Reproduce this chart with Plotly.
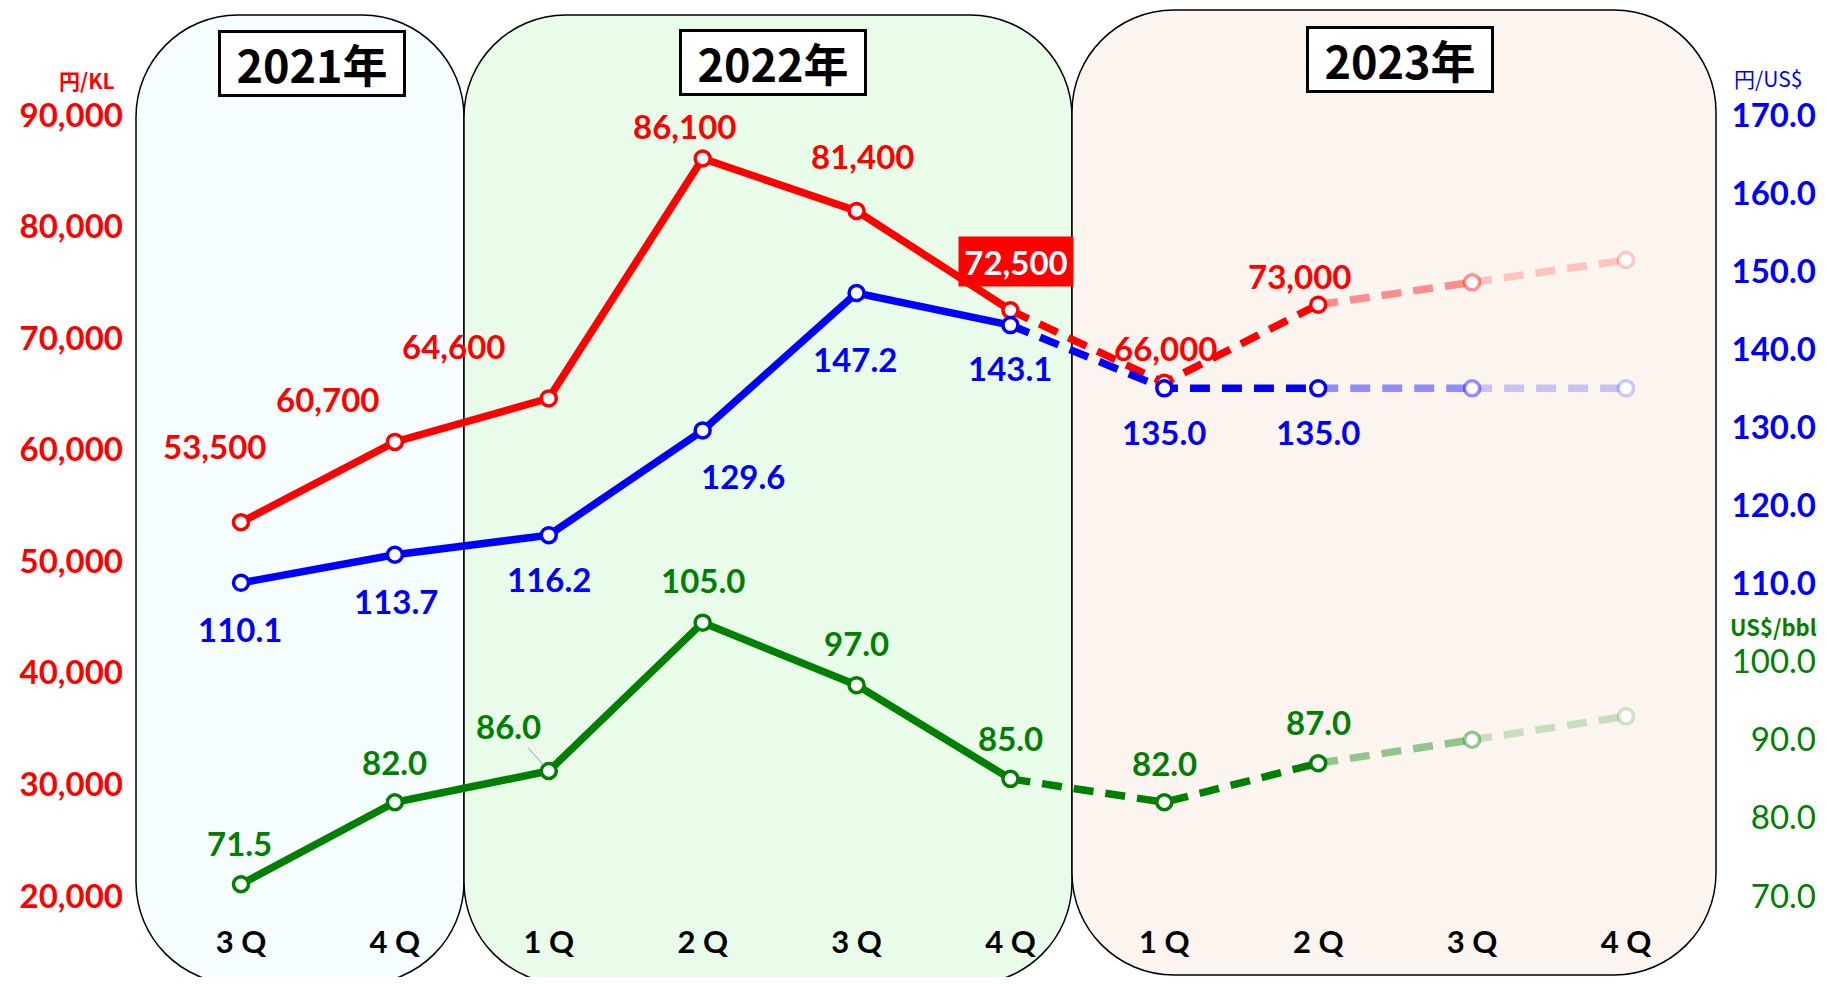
import plotly.graph_objects as go

# ---------------- data ----------------
quarters = ["3 Q", "4 Q", "1 Q", "2 Q", "3 Q", "4 Q", "1 Q", "2 Q", "3 Q", "4 Q"]
years = ["2021年", "2022年", "2023年"]
price_yen_kl = [53500, 60700, 64600, 86100, 81400, 72500, 66000, 73000, 75000, 77000]
fx_yen_usd = [110.1, 113.7, 116.2, 129.6, 147.2, 143.1, 135.0, 135.0, 135.0, 135.0]
crude_usd_bbl = [71.5, 82.0, 86.0, 105.0, 97.0, 85.0, 82.0, 87.0, 90.0, 93.0]
left_ticks = [20000, 30000, 40000, 50000, 60000, 70000, 80000, 90000]
fx_ticks = [110, 120, 130, 140, 150, 160, 170]
crude_ticks = [70, 80, 90, 100]
n_labeled = 8

# ---------------- layout geometry (page pixel coords) ----------------
OFF = 8                      # default body margin of the html page
W, H = 1827 - 2 * OFF, 985 - 2 * OFF
PL, PR, PT, PB = 136, 1716, 85, 925      # plot area in page coords
ML = PL - OFF
MT = PT - OFF
MB = H - (PB - OFF)
MR = 0
PW = W - ML - MR             # paper width px
PH = PB - PT                 # paper height px

l_per_px = 70000 / 781       # 90,000 at y=115, 20,000 at y=896
left_range = [20000 - (PB - 896) * l_per_px, 90000 + (115 - PT) * l_per_px]
r_per_px = 100 / 781
right_range = [70 - (PB - 896) * r_per_px, 170 + (115 - PT) * r_per_px]

unit = (1626 - 241) / 9      # first category at 241px, last at 1626px
x_range = [-(241 - PL) / unit, 9 + (PR - 1626) / unit]
x_dom = [0, (PR - PL) / PW]


def px(X):
    return (X - PL) / PW


def py(Y):
    return (PB - Y) / PH


def rounded_rect(x0, x1, y0, y1, r):
    k = 0.5523
    X0, X1 = px(x0), px(x1)
    YT, YB = py(y0), py(y1)
    rx, ry = r / PW, r / PH
    p = [f"M{X0+rx},{YT}", f"L{X1-rx},{YT}",
         f"C{X1-rx+k*rx},{YT} {X1},{YT-ry+k*ry} {X1},{YT-ry}",
         f"L{X1},{YB+ry}",
         f"C{X1},{YB+ry-k*ry} {X1-rx+k*rx},{YB} {X1-rx},{YB}",
         f"L{X0+rx},{YB}",
         f"C{X0+rx-k*rx},{YB} {X0},{YB+ry-k*ry} {X0},{YB+ry}",
         f"L{X0},{YT-ry}",
         f"C{X0},{YT-ry+k*ry} {X0+rx-k*rx},{YT} {X0+rx},{YT}", "Z"]
    return " ".join(p)


RED, BLUE, GREEN = "#FF0000", "#0000FF", "#008000"
RED_M, RED_L = "rgba(255,0,0,0.42)", "rgba(255,0,0,0.2)"
BLUE_M, BLUE_L = "rgba(0,0,255,0.42)", "rgba(0,0,255,0.2)"
GREEN_M, GREEN_L = "rgba(0,128,0,0.42)", "rgba(0,128,0,0.2)"
DASH = "20px,12px"
LW = 7.5

fig = go.Figure()
xs = list(range(len(quarters)))


def add_series(vals, yaxis, c_full, c_mid, c_light):
    segs = [(0, 6, c_full, "solid"), (5, 8, c_full, DASH),
            (7, 9, c_mid, DASH), (8, 10, c_light, DASH)]
    for a, b, col, dash in segs:
        fig.add_trace(go.Scatter(
            x=xs[a:b], y=vals[a:b], yaxis=yaxis, mode="lines",
            line=dict(color=col, width=LW, dash=dash),
            hoverinfo="skip", showlegend=False))
    mcols = [c_full] * 8 + [c_mid, c_light]
    fig.add_trace(go.Scatter(
        x=xs, y=vals, yaxis=yaxis, mode="markers",
        marker=dict(size=15, color="white", line=dict(color=mcols, width=3.5)),
        hoverinfo="skip", showlegend=False))


add_series(price_yen_kl, "y", RED, RED_M, RED_L)
add_series(fx_yen_usd, "y2", BLUE, BLUE_M, BLUE_L)
add_series(crude_usd_bbl, "y3", GREEN, GREEN_M, GREEN_L)

# ---------------- shapes: rounded year panels ----------------
shapes = [
    dict(type="path", xref="paper", yref="paper", layer="below",
         path=rounded_rect(136, 464, 15, 984, 102),
         fillcolor="#F6FDFE", line=dict(color="black", width=1.5)),
    dict(type="path", xref="paper", yref="paper", layer="below",
         path=rounded_rect(464, 1072, 15, 984, 102),
         fillcolor="#E9FCE9", line=dict(color="black", width=1.5)),
    dict(type="path", xref="paper", yref="paper", layer="below",
         path=rounded_rect(1072, 1716, 10, 975, 102),
         fillcolor="#FCF4EF", line=dict(color="black", width=1.5)),
]

# ---------------- annotations ----------------
ann = []
LBL_FONT = "Lato"
LBL_SIZE = 33
year_centers = [(312, 63), (773, 62), (1400, 59)]
for t, (cx, cy) in zip(years, year_centers):
    ann.append(dict(xref="paper", yref="paper", x=px(cx), y=py(cy),
                    xanchor="center", yanchor="middle",
                    text=t, showarrow=False, bgcolor="white",
                    bordercolor="black", borderwidth=3, borderpad=2,
                    width=178, height=57,
                    font=dict(family="Noto Sans CJK JP", size=45, color="black", weight="bold")))

red_off = [(-27, 76), (-67, 43), (-95, 52), (-18, 33), (6, 55), (6, 49), (1, 35), (-19, 29)]
blue_off = [(-1, -46), (1, -46), (0, -44), (40, -45), (-2, -66), (0, -43), (0, -44), (0, -44)]
green_off = [(-2, 41), (0, 40), (-40, 45), (0, 43), (0, 42), (0, 41), (0, 39), (0, 41)]

for i in range(n_labeled):
    v = price_yen_kl[i]
    dx, dy = red_off[i]
    if i == 5:
        ann.append(dict(x=i, y=v, xref="x", yref="y", text=f"{v:,}", showarrow=False,
                        xshift=dx, yshift=dy, bgcolor=RED, borderpad=4, width=106, height=41,
                        font=dict(family=LBL_FONT, size=LBL_SIZE, color="white", weight="bold")))
    else:
        ann.append(dict(x=i, y=v, xref="x", yref="y", text=f"{v:,}", showarrow=False,
                        xshift=dx, yshift=dy,
                        font=dict(family=LBL_FONT, size=LBL_SIZE, color=RED, weight="bold")))
    v = fx_yen_usd[i]
    dx, dy = blue_off[i]
    ann.append(dict(x=i, y=v, xref="x", yref="y2", text=f"{v:.1f}", showarrow=False,
                    xshift=dx, yshift=dy,
                    font=dict(family=LBL_FONT, size=LBL_SIZE, color=BLUE, weight="bold")))
    v = crude_usd_bbl[i]
    dx, dy = green_off[i]
    if i == 2:
        ann.append(dict(x=i, y=v, xref="x", yref="y3", text=f"{v:.1f}", showarrow=True,
                        ax=dx, ay=-dy, arrowhead=0, arrowwidth=1, arrowcolor="#A0A0A0",
                        standoff=8,
                        font=dict(family=LBL_FONT, size=LBL_SIZE, color=GREEN, weight="bold")))
    else:
        ann.append(dict(x=i, y=v, xref="x", yref="y3", text=f"{v:.1f}", showarrow=False,
                        xshift=dx, yshift=dy,
                        font=dict(family=LBL_FONT, size=LBL_SIZE, color=GREEN, weight="bold")))

# unit labels
ann.append(dict(xref="paper", yref="paper", x=px(117), y=py(80),
                xanchor="right", yanchor="middle",
                text="円/KL", showarrow=False,
                font=dict(family="Noto Sans CJK JP", size=21, color=RED, weight="bold")))
ann.append(dict(xref="paper", yref="paper", x=px(1768), y=py(78),
                xanchor="center", yanchor="middle",
                text="円/US$", showarrow=False,
                font=dict(family="Noto Sans CJK JP", size=21, color=BLUE)))
ann.append(dict(xref="paper", yref="paper", x=px(1819), y=py(626),
                xanchor="right", yanchor="middle",
                text="US$/bbl", showarrow=False,
                font=dict(family="Noto Sans CJK JP", size=22, color=GREEN, weight="bold")))

axis_common = dict(showgrid=False, zeroline=False, showline=False, ticks="")

fig.update_layout(
    width=W, height=H,
    margin=dict(l=ML, r=MR, t=MT, b=MB, pad=0),
    paper_bgcolor="white", plot_bgcolor="rgba(0,0,0,0)",
    showlegend=False,
    shapes=shapes, annotations=ann,
    xaxis=dict(**axis_common, domain=x_dom, range=x_range,
               tickmode="array", tickvals=xs, ticktext=quarters,
               ticklabelstandoff=-4,
               tickfont=dict(family=LBL_FONT, size=31, color="black", weight="bold")),
    yaxis=dict(**axis_common, range=left_range, tickmode="array",
               tickvals=left_ticks, ticktext=[f"{v:,}" for v in left_ticks],
               ticklabelstandoff=12,
               tickfont=dict(family=LBL_FONT, size=33, color=RED, weight="bold")),
    yaxis2=dict(**axis_common, range=right_range, overlaying="y", side="right",
                anchor="free", position=1.0, ticklabelposition="inside",
                tickmode="array", tickvals=fx_ticks,
                ticktext=[f"{v:.1f}" for v in fx_ticks],
                tickfont=dict(family=LBL_FONT, size=33, color=BLUE, weight="bold")),
    yaxis3=dict(**axis_common, range=right_range, overlaying="y", side="right",
                anchor="free", position=1.0, ticklabelposition="inside",
                tickmode="array", tickvals=crude_ticks,
                ticktext=[f"{v:.1f}" for v in crude_ticks],
                tickfont=dict(family=LBL_FONT, size=33, color=GREEN)),
)

fig.write_html("out.html")
